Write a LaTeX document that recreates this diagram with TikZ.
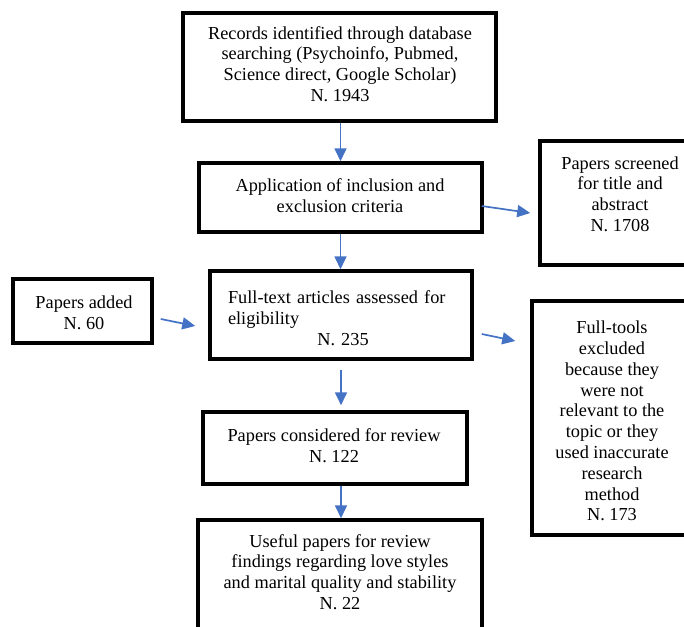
\documentclass[tikz,border=0pt]{standalone}
\usepackage{fontspec}
\setmainfont{Liberation Serif}
\usetikzlibrary{arrows.meta,calc}
\definecolor{arrowblue}{HTML}{4472C4}
\begin{document}
\begin{tikzpicture}[x=1pt,y=-1pt,
  box/.style={draw=black,line width=3.5pt,inner sep=0pt,rectangle},
  txt/.style={align=center,font=\fontsize{18.3}{20.8}\selectfont,inner sep=0pt},
  arr/.style={draw=arrowblue,line width=1.7pt,-{Triangle[length=13pt,width=12pt]}}]
\fill[white] (0,0) rectangle (684,626);
\useasboundingbox (0,0) rectangle (684,626);

% boxes
\node[box,minimum width=313pt,minimum height=108pt] (B1) at (339.5,67) {};
\node[box,minimum width=283pt,minimum height=69pt] (B2) at (340.5,197.5) {};
\node[box,minimum width=160pt,minimum height=124pt] (B3) at (620,203) {};
\node[box,minimum width=262pt,minimum height=88pt] (B4) at (341,315) {};
\node[box,minimum width=139pt,minimum height=64pt] (BA) at (82.5,311) {};
\node[box,minimum width=160pt,minimum height=234pt] (B5) at (612,418) {};
\node[box,minimum width=264pt,minimum height=72pt] (B6) at (335,448) {};
\node[box,minimum width=284pt,minimum height=120pt] (B7) at (340,580) {};

% texts
\node[txt] (T1) at (340,64) {Records identified through database\\searching (Psychoinfo, Pubmed,\\Science direct, Google Scholar)\\N. 1943};
\node[txt] (T2) at (340,196) {Application of inclusion and\\exclusion criteria};
\node[txt] (T3) at (620,194) {Papers screened\\for title and\\abstract\\N. 1708};
\node[txt,align=left,text width=230pt] (T4) at (343,318) {Full-text articles assessed for\\eligibility\\\makebox[\linewidth]{N. 235}};
\node[txt] (TA) at (84,312.5) {Papers added\\N. 60};
\node[txt] (T5) at (612,421) {Full-tools\\excluded\\because they\\were not\\relevant to the\\topic or they\\used inaccurate\\research\\method\\N. 173};
\node[txt] (T6) at (334,446) {Papers considered for review\\N. 122};
\node[txt] (T7) at (340,572) {Useful papers for review\\findings regarding love styles\\and marital quality and stability\\N. 22};

% arrows
\draw[arr] ($(B1.south)+(1,0)$) -- ($(B2.north)+(0,0)$);
\draw[arr] (B2.south) -- (B2.south |- B4.north);
\draw[arr] ($(B2.east)+(-2,8.5)$) -- ($(B3.west)+(-8,10)$);
\draw[arr] ($(BA.east)+(7,8)$) -- ($(B4.west)+(-13,11)$);
\draw[arr] ($(B4.east)+(8,19)$) -- ($(B5.west)+(-15,-77)$);
\draw[arr] ($(B4.south)+(0,9)$) -- ($(B4.south |- B6.north)+(0,-5)$);
\draw[arr] (B4.south |- B6.south) -- (B4.south |- B7.north);
\end{tikzpicture}
\end{document}
